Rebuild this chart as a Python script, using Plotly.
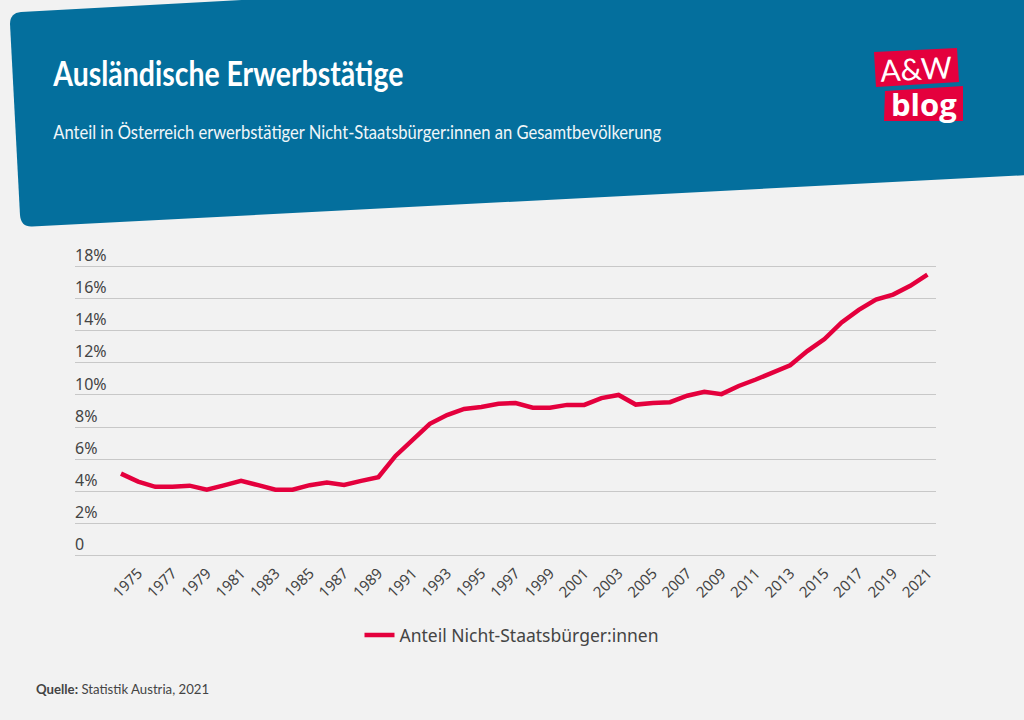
import plotly.graph_objects as go

years = list(range(1974, 2022))
share = [5.1, 4.6, 4.28, 4.28, 4.35, 4.1, 4.37, 4.65, 4.38, 4.1, 4.1, 4.38, 4.55, 4.4, 4.65, 4.88,
         6.2, 7.2, 8.2, 8.75, 9.13, 9.25, 9.45, 9.5, 9.2, 9.2, 9.38, 9.38, 9.8, 10.0, 9.4, 9.5,
         9.55, 9.95, 10.2, 10.05, 10.56, 10.96, 11.44, 11.85, 12.73, 13.48, 14.52, 15.3, 15.94,
         16.25, 16.8, 17.5]
y_ticks = [0, 2, 4, 6, 8, 10, 12, 14, 16, 18]
y_labels = ["0", "2%", "4%", "6%", "8%", "10%", "12%", "14%", "16%", "18%"]
x_ticks = list(range(1975, 2022, 2))
title = "Ausländische Erwerbstätige"
subtitle = "Anteil in Österreich erwerbstätiger Nicht-Staatsbürger:innen an Gesamtbevölkerung"
series_name = "Anteil Nicht-Staatsbürger:innen"
source = "<b>Quelle:</b> Statistik Austria, 2021"

W, H = 1024, 720
BG, BLUE, RED = "#f2f2f2", "#046f9d", "#e4003d"
BODY = "Noto Sans"
NARROW = "Lato"
Y0, PX_PER_UNIT = 555.5, 289 / 18
Y_MAX = 19.5
GRID = "#c8c8c8"


def px(x):
    return x / W


def py(y):
    return 1 - y / H


def path(points):
    return "M " + " L ".join(f"{px(x):.5f},{py(y):.5f}" for x, y in points) + " Z"


header = (f"M {px(10):.5f},{py(24):.5f} Q {px(10):.5f},{py(13):.5f} {px(21):.5f},{py(12):.5f} "
          f"L {px(260):.5f},{py(-1):.5f} L {px(1030):.5f},{py(-1):.5f} L {px(1030):.5f},{py(175):.5f} "
          f"L {px(32):.5f},{py(226.5):.5f} Q {px(21):.5f},{py(227):.5f} {px(20):.5f},{py(215):.5f} Z")

fig = go.Figure(go.Scatter(x=years, y=share, mode="lines", name=series_name,
                           line=dict(color=RED, width=4.5), cliponaxis=False))

fig.update_layout(
    width=W, height=H, margin=dict(l=0, r=0, t=0, b=0), autosize=False,
    paper_bgcolor=BG, plot_bgcolor=BG,
    font=dict(family=BODY, color="#444444"),
    showlegend=True,
    legend=dict(orientation="h", x=0.5, xanchor="center", y=py(635), yanchor="middle",
                font=dict(size=17.5, color="#444444"), bgcolor="rgba(0,0,0,0)"),
    xaxis=dict(domain=[px(75), px(936)], range=[1971.32, 2021.5], tickmode="array",
               tickvals=x_ticks, ticktext=[str(v) for v in x_ticks], tickangle=-45,
               showgrid=False, zeroline=False, showline=False, ticks="",
               tickfont=dict(size=15, color="#444444"), ticklabelstandoff=5),
    yaxis=dict(domain=[py(Y0), py(Y0 - Y_MAX * PX_PER_UNIT)], range=[0, Y_MAX], tickmode="array",
               tickvals=y_ticks, ticktext=y_labels, showgrid=True, gridcolor=GRID,
               gridwidth=1, zeroline=True, zerolinecolor=GRID, zerolinewidth=1,
               showline=False, ticks="",
               ticklabelposition="inside", ticklabelshift=-11, ticklabelstandoff=-3,
               tickfont=dict(size=16, color="#444444")),
    shapes=[
        dict(type="path", xref="paper", yref="paper", path=header, fillcolor=BLUE,
             line=dict(width=0), layer="below"),
        dict(type="path", xref="paper", yref="paper", fillcolor=RED, line=dict(width=0),
             path=path([(874, 52), (957, 48), (959, 82), (876, 87)])),
        dict(type="path", xref="paper", yref="paper", fillcolor=RED, line=dict(width=0),
             path=path([(885, 91), (963, 86), (963, 121), (884, 121)])),
    ],
    annotations=[
        dict(text=f"<b>{title}</b>", x=px(228), y=py(72), xref="paper", yref="paper",
             xanchor="center", yanchor="middle", showarrow=False,
             font=dict(family=NARROW, size=35, color="white")),
        dict(text=subtitle, x=px(357), y=py(131), xref="paper", yref="paper",
             xanchor="center", yanchor="middle", showarrow=False,
             font=dict(family=NARROW, size=20, color="#f0f6f9")),
        dict(text=source, x=px(34), y=py(689), xref="paper", yref="paper",
             xanchor="left", yanchor="middle", showarrow=False,
             font=dict(family=NARROW, size=13.2, color="#444444")),
        dict(text="A&amp;W", x=px(916), y=py(68), xref="paper", yref="paper",
             xanchor="center", yanchor="middle", showarrow=False, textangle=-3,
             font=dict(family="Lato", size=30, color="white")),
        dict(text="<b>blog</b>", x=px(924), y=py(104), xref="paper", yref="paper",
             xanchor="center", yanchor="middle", showarrow=False,
             font=dict(family="Open Sans", size=31, color="white")),
    ],
)

# The reference's narrow typeface is not installed: fit the two header lines to its text widths.
post = """
document.body.style.margin='0';document.body.style.background='#f2f2f2';
var t=document.querySelectorAll('.annotation-text');
[[0,350],[1,608]].forEach(function(p){t[p[0]].setAttribute('textLength',p[1]);
t[p[0]].setAttribute('lengthAdjust','spacingAndGlyphs');});
"""
fig.write_html("out.html", post_script=post, config={"displayModeBar": False})
